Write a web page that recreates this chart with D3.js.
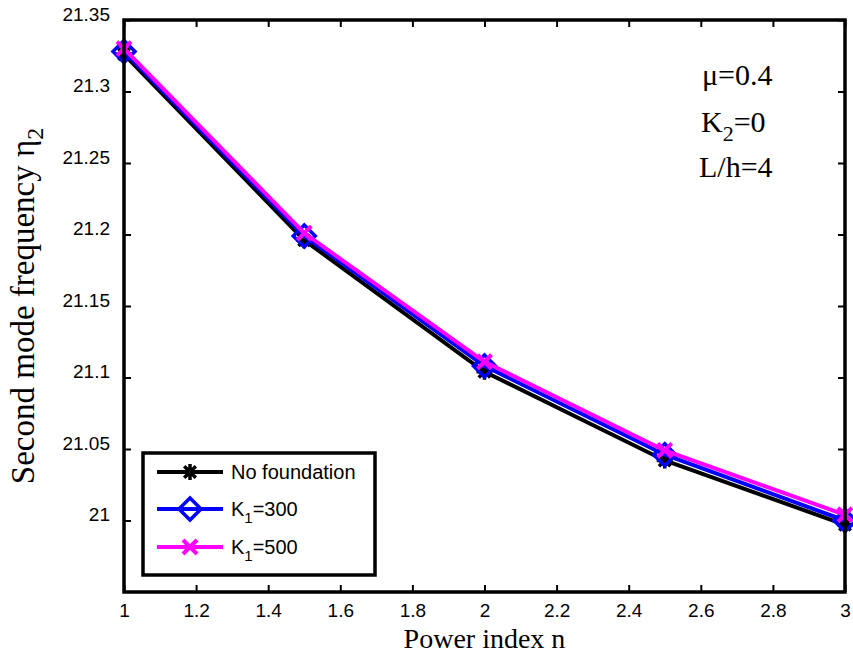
<!DOCTYPE html>
<html>
<head>
<meta charset="utf-8">
<script src="https://cdn.jsdelivr.net/npm/d3@7/dist/d3.min.js"></script>
<style>
    body { margin: 0; background: #fff; }
    .tick text { font-family: Arial, "Liberation Sans", sans-serif; font-size: 19px; fill: #000; }
</style>
</head>
<body>
<div class="container"></div>
<script>
// data
var powerIndex = [1, 1.5, 2, 2.5, 3];
var noFoundation = [21.326, 21.196, 21.104, 21.042, 20.997];
var k1_300 = [21.328, 21.199, 21.108, 21.046, 21.000];
var k1_500 = [21.330, 21.201, 21.111, 21.049, 21.004];
var xTicks = [1, 1.2, 1.4, 1.6, 1.8, 2, 2.2, 2.4, 2.6, 2.8, 3];
var yTicks = [21, 21.05, 21.1, 21.15, 21.2, 21.25, 21.3, 21.35];
var seriesNames = ["No foundation", "K1=300", "K1=500"];

!function () {
    var width = 853, height = 656;
    var left = 124, right = 845, top = 20, bottom = 592;

    var svg = d3.select('.container')
        .append('svg')
        .attr('width', width)
        .attr('height', height);

    var x = d3.scaleLinear().domain([1, 3]).range([left, right]);
    var y = d3.scaleLinear().domain([20.95, 21.35]).range([bottom, top]);

    // ticks inward on all four sides
    svg.append('g')
        .attr('transform', 'translate(0,' + bottom + ')')
        .call(d3.axisBottom(x).tickValues(xTicks).tickSize(-7).tickPadding(25).tickFormat(d3.format('')))
        .call(function (g) { g.select('.domain').remove(); });
    svg.append('g')
        .attr('transform', 'translate(0,' + top + ')')
        .call(d3.axisTop(x).tickValues(xTicks).tickSize(-7).tickFormat(''))
        .call(function (g) { g.select('.domain').remove(); });
    svg.append('g')
        .attr('transform', 'translate(' + left + ',0)')
        .call(d3.axisLeft(y).tickValues(yTicks).tickSize(-7).tickPadding(14).tickFormat(d3.format('')))
        .call(function (g) { g.select('.domain').remove(); });
    svg.append('g')
        .attr('transform', 'translate(' + right + ',0)')
        .call(d3.axisRight(y).tickValues(yTicks).tickSize(-7).tickFormat(''))
        .call(function (g) { g.select('.domain').remove(); });

    svg.selectAll('.tick line').attr('stroke', '#000').attr('stroke-width', 2);
    svg.selectAll('.tick text').attr('dy', null);

    var line = d3.line()
        .x(function (d) { return x(d[0]); })
        .y(function (d) { return y(d[1]); });

    function asterisk(g, r) {
        var a = r * 0.72;
        g.append('path')
            .attr('d', 'M' + (-r) + ',0L' + r + ',0M0,' + (-r) + 'L0,' + r +
                'M' + (-a) + ',' + (-a) + 'L' + a + ',' + a + 'M' + (-a) + ',' + a + 'L' + a + ',' + (-a))
            .attr('stroke', '#000').attr('stroke-width', 3.5).attr('fill', 'none');
    }
    function diamond(g, r) {
        g.append('path')
            .attr('d', 'M0,' + (-r) + 'L' + r + ',0L0,' + r + 'L' + (-r) + ',0Z')
            .attr('stroke', '#0000ff').attr('stroke-width', 3.5).attr('fill', 'none');
    }
    function cross(g, r) {
        g.append('path')
            .attr('d', 'M' + (-r) + ',' + (-r) + 'L' + r + ',' + r + 'M' + (-r) + ',' + r + 'L' + r + ',' + (-r))
            .attr('stroke', '#ff00ff').attr('stroke-width', 4).attr('fill', 'none');
    }

    var series = [
        { name: seriesNames[0], values: noFoundation, color: '#000000', marker: asterisk, size: 8 },
        { name: seriesNames[1], values: k1_300, color: '#0000ff', marker: diamond, size: 11 },
        { name: seriesNames[2], values: k1_500, color: '#ff00ff', marker: cross, size: 7 }
    ];

    series.forEach(function (s) {
        var pts = powerIndex.map(function (n, i) { return [n, s.values[i]]; });
        svg.append('path')
            .datum(pts)
            .attr('d', line)
            .attr('fill', 'none')
            .attr('stroke', s.color)
            .attr('stroke-width', 4);
        pts.forEach(function (p) {
            var g = svg.append('g').attr('transform', 'translate(' + x(p[0]) + ',' + y(p[1]) + ')');
            s.marker(g, s.size);
        });
    });

    // frame
    svg.append('rect')
        .attr('x', left).attr('y', top)
        .attr('width', right - left).attr('height', bottom - top)
        .attr('fill', 'none').attr('stroke', '#000').attr('stroke-width', 3.5);

    // legend
    var legend = svg.append('g');
    legend.append('rect')
        .attr('x', 143).attr('y', 453).attr('width', 232).attr('height', 122)
        .attr('fill', '#fff').attr('stroke', '#000').attr('stroke-width', 3.5);
    var rowY = [472, 509, 547];
    series.forEach(function (s, i) {
        legend.append('line')
            .attr('x1', 157).attr('x2', 223).attr('y1', rowY[i]).attr('y2', rowY[i])
            .attr('stroke', s.color).attr('stroke-width', 4);
        s.marker(legend.append('g').attr('transform', 'translate(190,' + rowY[i] + ')'), s.size);
        var t = legend.append('text')
            .attr('x', 231).attr('y', rowY[i] + 7)
            .attr('font-family', 'Arial, "Liberation Sans", sans-serif')
            .attr('font-size', 20);
        if (i === 0) {
            t.text(s.name);
        } else {
            t.append('tspan').text('K');
            t.append('tspan').attr('font-size', 15).attr('dy', 7).text('1');
            t.append('tspan').attr('dy', -7).text(s.name.slice(2));
        }
    });

    // annotation
    var serif = '"Liberation Serif", "Times New Roman", serif';
    var notes = svg.append('g')
        .attr('font-family', serif)
        .attr('font-size', 30);
    notes.append('text').attr('x', 702).attr('y', 85).text('\u03bc=0.4');
    var k2 = notes.append('text').attr('x', 701).attr('y', 132);
    k2.append('tspan').text('K');
    k2.append('tspan').attr('font-size', 22).attr('dy', 9).text('2');
    k2.append('tspan').attr('dy', -9).text('=0');
    notes.append('text').attr('x', 699).attr('y', 177).text('L/h=4');

    // axis titles
    svg.append('text')
        .attr('x', (left + right) / 2).attr('y', 648)
        .attr('text-anchor', 'middle')
        .attr('font-family', serif).attr('font-size', 28)
        .text('Power index n');

    var yl = svg.append('text')
        .attr('transform', 'translate(34,' + 306 + ') rotate(-90)')
        .attr('text-anchor', 'middle')
        .attr('font-family', serif).attr('font-size', 33);
    yl.append('tspan').text('Second mode frequency  \u03b7');
    yl.append('tspan').attr('font-size', 24).attr('dy', 9).text('2');
}();
</script>
</body>
</html>
